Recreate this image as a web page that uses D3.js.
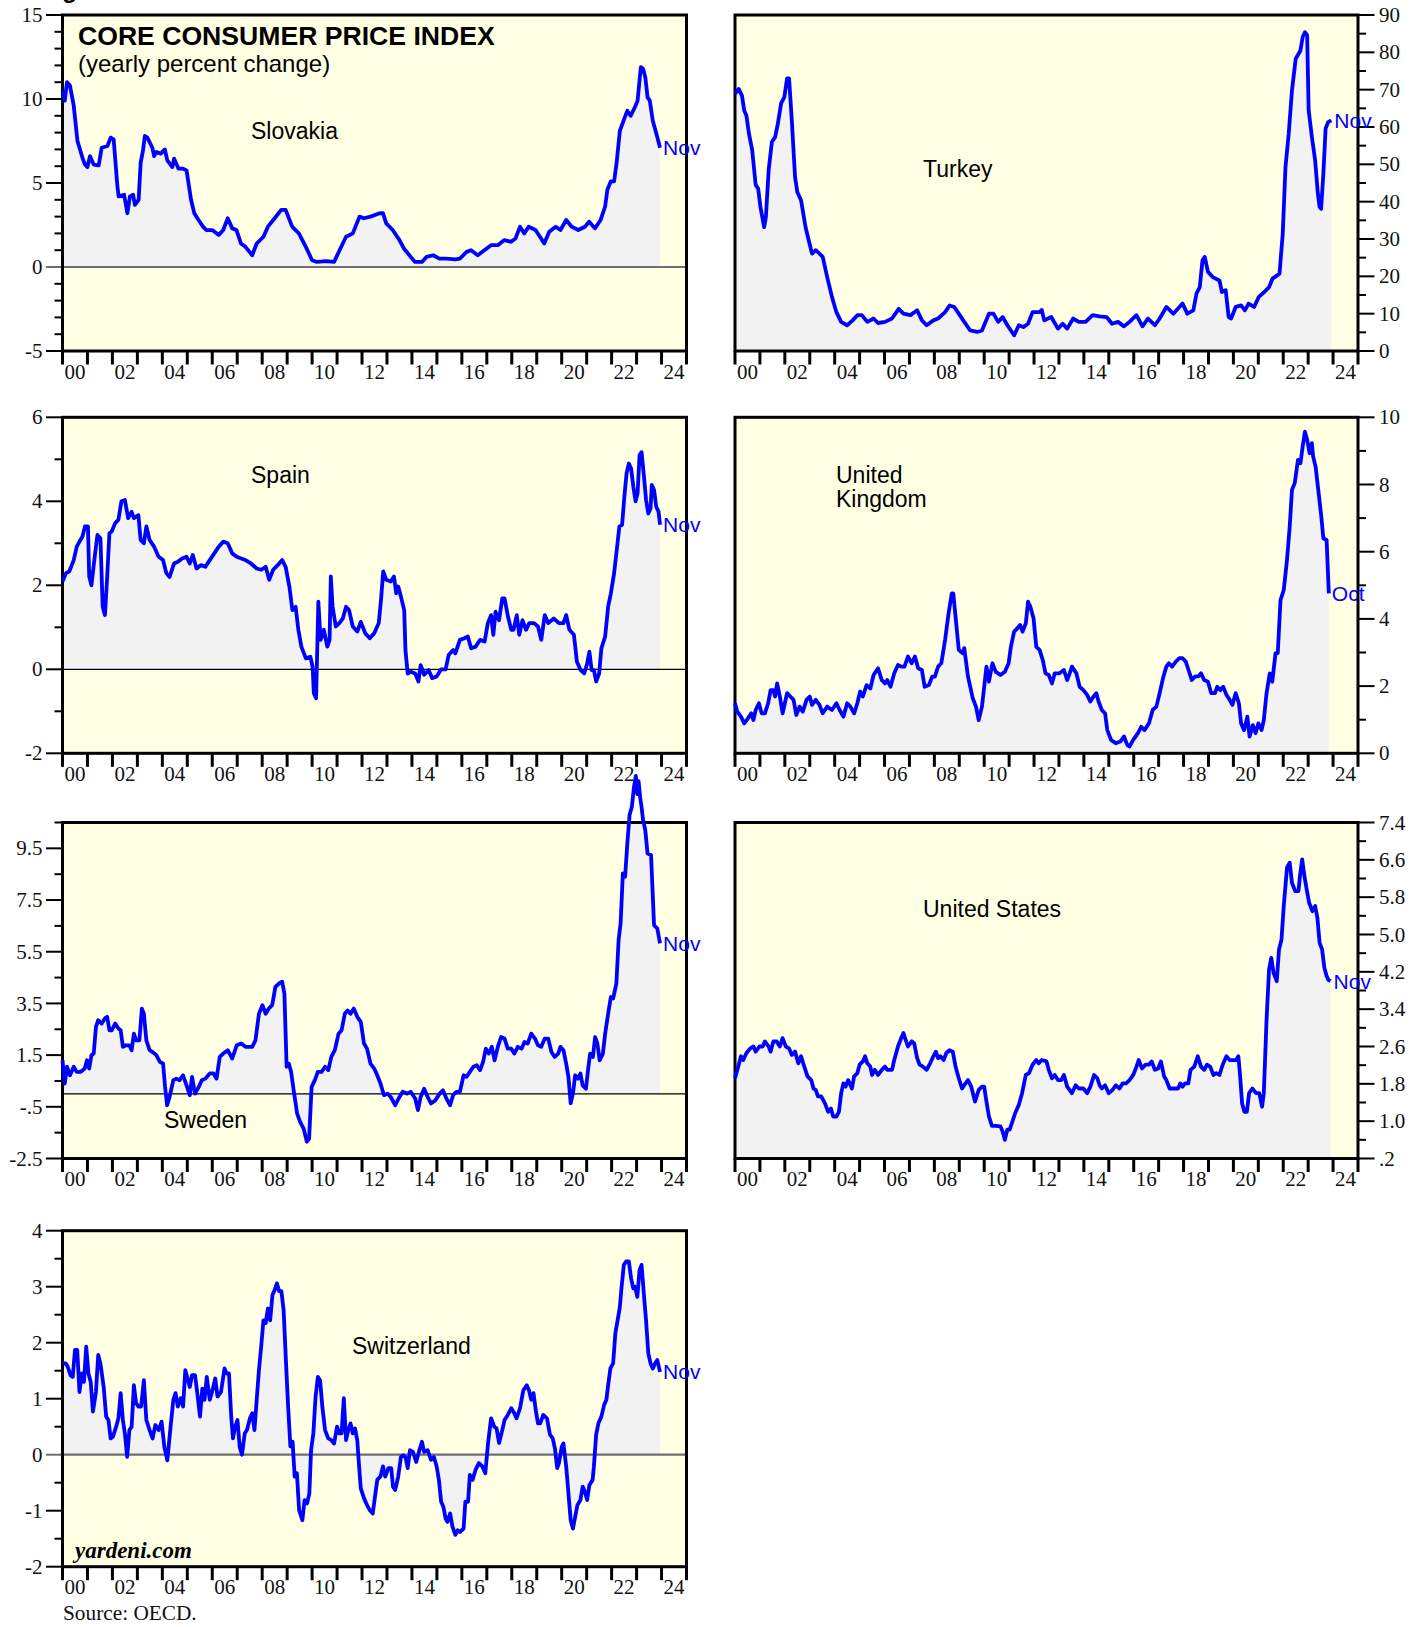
<!DOCTYPE html>
<html><head><meta charset="utf-8">
<script src="https://cdn.jsdelivr.net/npm/d3@7"></script>
<style>body{margin:0;background:#fff} svg{display:block}</style>
</head><body>
<svg id="c" width="1424" height="1627"></svg>
<script>
// ---------- DATA ----------
const yearLabels = ["00","02","04","06","08","10","12","14","16","18","20","22","24"];

const slovakia = [[2000.0,10.5],[2000.09,9.9],[2000.18,11.0],[2000.3,10.8],[2000.45,9.6],[2000.6,7.5],[2000.8,6.5],[2000.9,6.1],[2001.0,5.95],[2001.1,6.6],[2001.25,6.1],[2001.45,6.05],[2001.57,7.1],[2001.8,7.2],[2001.93,7.7],[2002.05,7.6],[2002.2,4.8],[2002.25,4.2],[2002.47,4.3],[2002.6,3.2],[2002.7,4.2],[2002.83,4.3],[2002.9,3.7],[2003.05,4.0],[2003.13,6.2],[2003.22,6.9],[2003.3,7.8],[2003.4,7.7],[2003.6,7.1],[2003.67,6.6],[2003.76,6.85],[2003.94,6.75],[2004.1,7.0],[2004.2,6.35],[2004.4,5.95],[2004.47,6.45],[2004.65,5.85],[2004.83,5.85],[2004.97,5.75],[2005.15,4.0],[2005.28,3.2],[2005.45,2.8],[2005.63,2.4],[2005.76,2.2],[2006.0,2.2],[2006.26,1.9],[2006.44,2.2],[2006.62,2.9],[2006.8,2.3],[2006.97,2.2],[2007.15,1.4],[2007.33,1.2],[2007.6,0.7],[2007.78,1.4],[2008.05,1.8],[2008.23,2.4],[2008.5,2.9],[2008.76,3.4],[2008.94,3.4],[2009.2,2.4],[2009.47,2.0],[2009.75,1.2],[2010.0,0.4],[2010.2,0.3],[2010.55,0.35],[2010.88,0.3],[2011.1,1.0],[2011.36,1.8],[2011.63,2.0],[2011.9,3.0],[2012.07,2.9],[2012.34,3.0],[2012.52,3.1],[2012.7,3.2],[2012.84,3.2],[2012.97,2.6],[2013.23,2.2],[2013.5,1.6],[2013.68,1.1],[2013.95,0.6],[2014.13,0.3],[2014.4,0.3],[2014.58,0.6],[2014.85,0.7],[2015.1,0.5],[2015.38,0.5],[2015.74,0.45],[2015.92,0.5],[2016.19,0.9],[2016.37,1.0],[2016.64,0.7],[2016.9,1.0],[2017.17,1.3],[2017.44,1.3],[2017.7,1.6],[2017.97,1.5],[2018.15,1.7],[2018.33,2.4],[2018.5,2.0],[2018.68,2.4],[2018.95,2.2],[2019.13,1.8],[2019.3,1.4],[2019.5,2.1],[2019.76,2.4],[2019.95,2.2],[2020.18,2.8],[2020.4,2.4],[2020.66,2.2],[2020.93,2.4],[2021.1,2.7],[2021.33,2.3],[2021.56,2.8],[2021.74,3.6],[2021.83,4.6],[2021.97,5.1],[2022.1,5.1],[2022.2,6.2],[2022.33,8.1],[2022.5,8.8],[2022.63,9.3],[2022.76,9.0],[2022.93,9.5],[2023.04,9.9],[2023.17,11.9],[2023.26,11.8],[2023.35,11.3],[2023.44,10.1],[2023.53,9.9],[2023.65,8.7],[2023.8,7.9],[2023.94,7.1]];

const turkey = [[2000.0,68.9],[2000.15,70.2],[2000.28,68.4],[2000.37,64.4],[2000.46,63],[2000.56,58.2],[2000.69,53.8],[2000.83,44.5],[2000.93,43.5],[2001.02,38.6],[2001.17,33.2],[2001.24,35.9],[2001.35,48.4],[2001.48,56],[2001.61,57.3],[2001.72,60.9],[2001.85,66.3],[2001.98,68],[2002.09,73],[2002.17,73],[2002.28,61.8],[2002.41,46.6],[2002.5,42.6],[2002.65,40.4],[2002.83,33.2],[2002.96,29.6],[2003.09,26.1],[2003.24,27],[2003.39,26.1],[2003.52,25.2],[2003.7,19.8],[2003.89,14.5],[2004.07,10.4],[2004.26,7.8],[2004.5,6.9],[2004.72,8.2],[2004.91,9.6],[2005.09,9.6],[2005.31,7.8],[2005.56,8.7],[2005.74,7.5],[2006.02,7.8],[2006.3,8.7],[2006.57,11.3],[2006.76,10],[2007.04,9.6],[2007.31,10.9],[2007.5,8.2],[2007.69,6.9],[2007.96,8.2],[2008.15,8.7],[2008.43,10.4],[2008.61,12.2],[2008.8,11.8],[2008.98,10],[2009.2,7.8],[2009.44,5.5],[2009.72,5.1],[2009.91,5.5],[2010.19,10],[2010.37,10],[2010.56,7.8],[2010.74,9.1],[2010.93,6.9],[2011.2,4.2],[2011.39,6.9],[2011.57,6.4],[2011.76,7.3],[2011.94,10.4],[2012.22,10.4],[2012.31,11],[2012.41,8.2],[2012.69,9.1],[2012.96,6],[2013.15,7.3],[2013.33,6],[2013.57,8.7],[2013.8,7.8],[2014.07,7.8],[2014.35,9.6],[2014.63,9.3],[2014.91,9.1],[2015.13,7.3],[2015.37,7.8],[2015.61,6.6],[2015.83,7.8],[2016.11,9.6],[2016.35,6.6],[2016.57,8.7],[2016.85,6.9],[2017.04,8.7],[2017.31,11.8],[2017.59,10],[2017.96,12.7],[2018.15,10],[2018.39,10.9],[2018.52,15.4],[2018.65,17.1],[2018.76,24.3],[2018.85,25.2],[2018.98,21.2],[2019.17,19.8],[2019.44,18.9],[2019.54,15.8],[2019.69,16.3],[2019.81,9.1],[2019.91,8.7],[2020.09,11.8],[2020.31,12.2],[2020.46,10.9],[2020.61,12.7],[2020.83,11.8],[2021.02,14.5],[2021.24,15.8],[2021.43,17.1],[2021.57,19.4],[2021.85,20.7],[2021.98,31.4],[2022.09,49.3],[2022.22,58.2],[2022.35,69.8],[2022.5,78.3],[2022.69,80.5],[2022.78,84.1],[2022.87,85.4],[2022.96,84.6],[2023.02,64.5],[2023.15,57.3],[2023.28,51.1],[2023.39,42.1],[2023.46,38.6],[2023.52,38.1],[2023.61,47.5],[2023.7,59.6],[2023.8,61.3],[2023.93,61.8]];

const spain = [[2000.0,2.09],[2000.14,2.29],[2000.27,2.33],[2000.45,2.6],[2000.57,2.92],[2000.72,3.08],[2000.8,3.16],[2000.9,3.4],[2001.02,3.4],[2001.07,2.21],[2001.16,2.0],[2001.29,2.68],[2001.4,3.2],[2001.52,3.12],[2001.61,1.49],[2001.7,1.29],[2001.79,2.2],[2001.88,3.24],[2001.97,3.28],[2002.11,3.48],[2002.24,3.56],[2002.36,4.0],[2002.5,4.03],[2002.63,3.6],[2002.77,3.75],[2002.86,3.6],[2003.04,3.67],[2003.13,3.08],[2003.26,3.0],[2003.36,3.4],[2003.49,3.08],[2003.67,2.92],[2003.85,2.68],[2004.03,2.6],[2004.16,2.29],[2004.29,2.2],[2004.47,2.52],[2004.62,2.56],[2004.79,2.64],[2004.97,2.68],[2005.1,2.52],[2005.22,2.72],[2005.37,2.4],[2005.55,2.48],[2005.72,2.44],[2005.9,2.6],[2006.08,2.76],[2006.26,2.92],[2006.44,3.04],[2006.62,3.0],[2006.8,2.76],[2006.98,2.68],[2007.16,2.64],[2007.33,2.6],[2007.55,2.52],[2007.78,2.4],[2007.96,2.37],[2008.14,2.44],[2008.28,2.13],[2008.44,2.37],[2008.62,2.48],[2008.8,2.6],[2008.94,2.44],[2009.09,1.97],[2009.21,1.41],[2009.34,1.49],[2009.45,0.94],[2009.57,0.54],[2009.75,0.26],[2009.93,0.3],[2010.02,0.06],[2010.07,-0.57],[2010.16,-0.69],[2010.25,1.61],[2010.34,0.7],[2010.47,0.94],[2010.61,0.54],[2010.7,0.7],[2010.75,2.21],[2010.82,1.49],[2010.95,1.02],[2011.09,1.1],[2011.23,1.21],[2011.36,1.49],[2011.48,1.41],[2011.63,1.02],[2011.81,0.9],[2011.95,1.13],[2012.13,0.86],[2012.31,0.74],[2012.49,0.86],[2012.67,1.1],[2012.76,1.65],[2012.85,2.33],[2012.97,2.13],[2013.15,2.09],[2013.28,2.21],[2013.37,1.81],[2013.45,1.97],[2013.56,1.73],[2013.69,1.41],[2013.74,0.46],[2013.83,-0.1],[2013.95,-0.06],[2014.13,-0.1],[2014.26,-0.29],[2014.35,0.1],[2014.49,-0.13],[2014.67,-0.02],[2014.81,-0.21],[2014.99,-0.17],[2015.17,0.0],[2015.35,0.0],[2015.47,0.34],[2015.65,0.46],[2015.74,0.38],[2015.92,0.7],[2016.1,0.74],[2016.24,0.78],[2016.37,0.5],[2016.55,0.54],[2016.73,0.7],[2016.91,0.66],[2017.04,1.1],[2017.17,1.29],[2017.26,0.82],[2017.35,1.37],[2017.49,1.17],[2017.62,1.69],[2017.71,1.69],[2017.85,1.25],[2017.98,0.94],[2018.07,0.94],[2018.2,1.29],[2018.3,0.82],[2018.43,1.17],[2018.57,0.94],[2018.7,1.1],[2018.88,1.1],[2019.05,1.02],[2019.18,0.7],[2019.32,1.29],[2019.46,1.1],[2019.68,1.21],[2019.89,1.1],[2020.07,1.1],[2020.18,1.29],[2020.31,0.94],[2020.49,0.82],[2020.61,0.18],[2020.76,-0.02],[2020.9,-0.1],[2021.02,0.14],[2021.11,0.42],[2021.2,-0.02],[2021.29,-0.02],[2021.38,-0.29],[2021.5,-0.1],[2021.59,0.5],[2021.74,0.78],[2021.86,1.49],[2021.97,1.81],[2022.1,2.29],[2022.19,2.76],[2022.31,3.4],[2022.42,3.44],[2022.51,4.11],[2022.6,4.67],[2022.69,4.9],[2022.78,4.78],[2022.87,4.35],[2022.96,4.0],[2023.04,4.19],[2023.12,5.1],[2023.2,5.17],[2023.29,4.63],[2023.38,4.03],[2023.47,3.71],[2023.56,3.83],[2023.61,4.39],[2023.7,4.27],[2023.79,3.87],[2023.88,3.75],[2023.94,3.44]];

const unitedKingdom = [[2000.0,1.49],[2000.09,1.24],[2000.24,1.09],[2000.37,0.89],[2000.52,1.04],[2000.65,1.19],[2000.74,0.99],[2000.83,1.29],[2000.96,1.49],[2001.07,1.19],[2001.2,1.19],[2001.33,1.49],[2001.43,1.88],[2001.54,1.88],[2001.61,1.69],[2001.69,2.08],[2001.8,1.69],[2001.91,1.19],[2002.0,1.49],[2002.09,1.79],[2002.22,1.69],[2002.35,1.59],[2002.46,1.14],[2002.59,1.39],[2002.72,1.24],[2002.87,1.59],[2003.0,1.69],[2003.09,1.44],[2003.24,1.59],[2003.39,1.44],[2003.52,1.19],[2003.7,1.39],[2003.89,1.29],[2004.07,1.49],[2004.2,1.29],[2004.35,1.09],[2004.5,1.49],[2004.63,1.39],[2004.78,1.19],[2004.91,1.49],[2005.02,1.84],[2005.13,1.69],[2005.28,2.03],[2005.43,1.93],[2005.56,2.33],[2005.74,2.53],[2005.89,2.18],[2006.02,2.08],[2006.11,2.18],[2006.24,1.98],[2006.39,2.38],[2006.54,2.63],[2006.67,2.58],[2006.8,2.58],[2006.94,2.88],[2007.09,2.68],[2007.22,2.88],[2007.35,2.53],[2007.5,2.48],[2007.61,1.98],[2007.78,2.03],[2007.91,2.28],[2008.02,2.28],[2008.15,2.58],[2008.28,2.68],[2008.43,3.37],[2008.57,4.17],[2008.7,4.76],[2008.76,4.76],[2008.85,4.07],[2008.98,3.08],[2009.13,2.98],[2009.2,3.13],[2009.35,2.28],[2009.44,1.98],[2009.54,1.64],[2009.67,1.39],[2009.78,0.99],[2009.91,1.39],[2010.0,1.98],[2010.09,2.58],[2010.19,2.13],[2010.33,2.68],[2010.46,2.43],[2010.65,2.33],[2010.83,2.43],[2010.98,2.68],[2011.07,3.17],[2011.2,3.62],[2011.33,3.72],[2011.44,3.82],[2011.54,3.62],[2011.67,3.87],[2011.76,4.51],[2011.85,4.37],[2011.98,4.02],[2012.09,3.17],[2012.22,3.08],[2012.35,2.78],[2012.46,2.38],[2012.59,2.33],[2012.72,2.08],[2012.83,2.38],[2013.02,2.38],[2013.2,2.48],[2013.33,2.18],[2013.43,2.38],[2013.52,2.58],[2013.7,2.38],[2013.83,1.98],[2013.98,1.88],[2014.13,1.74],[2014.26,1.54],[2014.39,1.69],[2014.5,1.79],[2014.59,1.54],[2014.72,1.29],[2014.85,1.19],[2014.94,0.69],[2015.09,0.4],[2015.28,0.3],[2015.46,0.35],[2015.61,0.5],[2015.74,0.25],[2015.83,0.2],[2015.98,0.4],[2016.17,0.6],[2016.3,0.79],[2016.43,0.69],[2016.61,0.89],[2016.76,1.29],[2016.91,1.39],[2017.04,1.79],[2017.19,2.28],[2017.31,2.58],[2017.41,2.68],[2017.54,2.58],[2017.69,2.73],[2017.83,2.83],[2017.96,2.83],[2018.09,2.73],[2018.2,2.48],[2018.33,2.18],[2018.46,2.28],[2018.61,2.3],[2018.7,2.38],[2018.83,2.18],[2018.98,2.13],[2019.11,1.79],[2019.26,1.79],[2019.35,1.98],[2019.48,1.88],[2019.59,1.98],[2019.72,1.74],[2019.85,1.59],[2019.96,1.44],[2020.09,1.79],[2020.22,1.49],[2020.31,0.89],[2020.43,0.69],[2020.56,1.09],[2020.65,0.5],[2020.78,0.84],[2020.89,0.6],[2021.0,0.89],[2021.13,0.69],[2021.22,0.99],[2021.33,1.79],[2021.46,2.38],[2021.56,2.13],[2021.69,2.98],[2021.78,2.98],[2021.89,4.56],[2022.02,4.86],[2022.15,5.75],[2022.26,6.75],[2022.35,7.84],[2022.46,8.04],[2022.59,8.73],[2022.69,8.63],[2022.78,9.13],[2022.87,9.57],[2022.96,9.33],[2023.06,8.93],[2023.15,9.23],[2023.2,8.83],[2023.3,8.53],[2023.39,7.94],[2023.52,7.1],[2023.61,6.4],[2023.74,6.35],[2023.83,4.76]];

const sweden = [[2000.0,1.3],[2000.09,0.4],[2000.18,1.05],[2000.3,0.72],[2000.45,1.05],[2000.57,0.85],[2000.72,0.85],[2000.89,0.98],[2000.98,1.3],[2001.07,0.98],[2001.16,1.5],[2001.25,1.56],[2001.34,2.59],[2001.43,2.85],[2001.57,2.72],[2001.7,2.92],[2001.79,2.98],[2001.88,2.46],[2001.97,2.46],[2002.11,2.72],[2002.24,2.53],[2002.33,2.46],[2002.42,1.82],[2002.54,1.88],[2002.68,1.88],[2002.77,1.69],[2002.86,2.33],[2002.95,2.07],[2003.08,2.07],[2003.18,3.3],[2003.26,3.1],[2003.36,2.07],[2003.49,1.69],[2003.61,1.62],[2003.76,1.5],[2003.9,1.24],[2004.03,1.17],[2004.11,0.27],[2004.19,-0.44],[2004.29,-0.12],[2004.44,0.53],[2004.56,0.59],[2004.69,0.53],[2004.83,0.72],[2004.97,0.33],[2005.1,-0.05],[2005.19,0.66],[2005.31,0.01],[2005.46,0.27],[2005.58,0.53],[2005.72,0.59],[2005.9,0.79],[2006.05,0.79],[2006.17,0.59],[2006.3,1.43],[2006.44,1.56],[2006.62,1.69],[2006.8,1.37],[2006.98,1.88],[2007.16,1.95],[2007.33,1.82],[2007.48,1.82],[2007.6,1.82],[2007.73,2.07],[2007.87,3.1],[2008.01,3.43],[2008.14,3.1],[2008.26,3.3],[2008.4,3.43],[2008.53,4.14],[2008.67,4.27],[2008.8,4.34],[2008.89,3.88],[2008.98,1.05],[2009.07,1.17],[2009.16,0.85],[2009.27,0.08],[2009.4,-0.76],[2009.52,-1.08],[2009.66,-1.34],[2009.79,-1.85],[2009.88,-1.73],[2009.98,0.27],[2010.11,0.53],[2010.23,0.85],[2010.38,0.85],[2010.52,1.05],[2010.65,0.92],[2010.77,1.43],[2010.91,1.69],[2011.06,2.33],[2011.18,2.46],[2011.31,3.1],[2011.42,3.23],[2011.54,3.1],[2011.67,3.3],[2011.81,2.98],[2011.95,2.79],[2012.08,1.95],[2012.2,1.75],[2012.34,1.17],[2012.49,0.98],[2012.61,0.72],[2012.74,0.4],[2012.88,-0.05],[2013.02,0.01],[2013.15,-0.12],[2013.33,-0.44],[2013.5,-0.12],[2013.63,0.08],[2013.81,0.01],[2013.95,0.08],[2014.13,-0.18],[2014.24,-0.63],[2014.35,-0.12],[2014.49,0.2],[2014.63,-0.12],[2014.76,-0.37],[2014.94,-0.25],[2015.11,0.01],[2015.24,0.14],[2015.38,-0.18],[2015.53,-0.44],[2015.65,-0.05],[2015.78,0.08],[2015.92,0.08],[2016.07,0.72],[2016.19,0.66],[2016.32,0.85],[2016.46,1.05],[2016.6,1.11],[2016.73,0.92],[2016.85,1.24],[2016.96,1.75],[2017.08,1.56],[2017.2,1.82],[2017.31,1.3],[2017.44,1.82],[2017.57,2.2],[2017.71,2.14],[2017.84,1.75],[2017.98,1.75],[2018.1,1.56],[2018.24,1.82],[2018.39,1.75],[2018.51,2.01],[2018.64,1.95],[2018.78,2.33],[2018.93,2.14],[2019.05,1.88],[2019.18,1.82],[2019.32,2.14],[2019.46,2.14],[2019.59,1.62],[2019.72,1.43],[2019.86,1.56],[2019.95,1.82],[2020.07,1.69],[2020.18,1.17],[2020.27,0.66],[2020.36,-0.37],[2020.45,0.01],[2020.54,0.72],[2020.66,0.59],[2020.75,0.79],[2020.84,0.33],[2020.97,0.2],[2021.07,1.05],[2021.14,1.56],[2021.25,1.43],[2021.34,2.2],[2021.43,1.95],[2021.52,1.3],[2021.65,1.56],[2021.74,2.33],[2021.86,3.1],[2021.97,3.75],[2022.06,3.69],[2022.19,4.27],[2022.28,5.95],[2022.36,6.6],[2022.45,8.53],[2022.54,8.4],[2022.63,9.7],[2022.72,10.8],[2022.81,11.1],[2022.9,11.9],[2022.97,12.3],[2023.03,11.6],[2023.08,12.1],[2023.14,11.5],[2023.2,11.1],[2023.26,10.6],[2023.35,10.2],[2023.44,9.3],[2023.58,9.24],[2023.7,6.53],[2023.83,6.4],[2023.94,5.82]];

const unitedStates = [[2000.0,1.92],[2000.13,2.17],[2000.24,2.39],[2000.33,2.31],[2000.46,2.46],[2000.61,2.56],[2000.74,2.6],[2000.83,2.49],[2000.98,2.6],[2001.11,2.6],[2001.2,2.71],[2001.35,2.6],[2001.43,2.49],[2001.54,2.71],[2001.67,2.71],[2001.8,2.6],[2001.91,2.78],[2002.04,2.6],[2002.17,2.56],[2002.28,2.42],[2002.41,2.49],[2002.54,2.24],[2002.65,2.39],[2002.78,2.17],[2002.91,1.96],[2003.06,1.88],[2003.15,1.7],[2003.24,1.67],[2003.33,1.53],[2003.46,1.53],[2003.61,1.38],[2003.74,1.2],[2003.85,1.27],[2003.94,1.1],[2004.07,1.1],[2004.17,1.2],[2004.26,1.6],[2004.35,1.81],[2004.44,1.74],[2004.54,1.88],[2004.69,1.7],[2004.78,1.96],[2004.91,2.03],[2005.0,2.21],[2005.13,2.28],[2005.22,2.39],[2005.31,2.24],[2005.43,2.17],[2005.5,1.99],[2005.61,2.1],[2005.74,1.99],[2005.89,2.1],[2006.02,2.17],[2006.11,2.1],[2006.3,2.1],[2006.39,2.31],[2006.54,2.6],[2006.67,2.78],[2006.76,2.89],[2006.85,2.74],[2006.94,2.6],[2007.09,2.71],[2007.19,2.67],[2007.31,2.35],[2007.41,2.21],[2007.54,2.17],[2007.69,2.1],[2007.83,2.24],[2007.96,2.39],[2008.06,2.49],[2008.15,2.35],[2008.24,2.39],[2008.37,2.31],[2008.48,2.46],[2008.61,2.52],[2008.74,2.49],[2008.85,2.17],[2008.98,1.92],[2009.11,1.7],[2009.2,1.77],[2009.35,1.88],[2009.48,1.74],[2009.63,1.42],[2009.78,1.67],[2009.91,1.74],[2010.0,1.74],[2010.09,1.42],[2010.19,1.1],[2010.31,0.9],[2010.46,0.9],[2010.65,0.89],[2010.74,0.78],[2010.83,0.6],[2010.93,0.82],[2011.02,0.82],[2011.11,0.96],[2011.24,1.17],[2011.39,1.35],[2011.52,1.6],[2011.67,1.99],[2011.8,2.03],[2011.94,2.21],[2012.09,2.31],[2012.19,2.24],[2012.31,2.31],[2012.5,2.28],[2012.59,2.1],[2012.72,1.92],[2012.83,1.99],[2012.96,1.88],[2013.09,1.88],[2013.2,1.99],[2013.33,1.74],[2013.52,1.6],[2013.67,1.77],[2013.8,1.7],[2013.98,1.7],[2014.13,1.6],[2014.26,1.74],[2014.41,1.99],[2014.54,1.92],[2014.63,1.77],[2014.72,1.7],[2014.85,1.77],[2015.0,1.6],[2015.15,1.67],[2015.28,1.77],[2015.43,1.7],[2015.56,1.81],[2015.69,1.81],[2015.83,1.88],[2015.98,1.99],[2016.11,2.17],[2016.2,2.31],[2016.33,2.13],[2016.48,2.21],[2016.61,2.21],[2016.72,2.28],[2016.85,2.1],[2016.98,2.13],[2017.09,2.28],[2017.22,1.96],[2017.31,1.88],[2017.44,1.7],[2017.59,1.7],[2017.78,1.7],[2017.87,1.81],[2017.96,1.74],[2018.06,1.81],[2018.19,1.81],[2018.28,2.1],[2018.43,2.17],[2018.57,2.39],[2018.7,2.17],[2018.83,2.1],[2018.94,2.21],[2019.07,2.17],[2019.2,1.99],[2019.31,2.03],[2019.44,1.99],[2019.57,2.21],[2019.72,2.39],[2019.85,2.31],[2019.98,2.31],[2020.11,2.31],[2020.2,2.39],[2020.26,2.03],[2020.35,1.38],[2020.44,1.2],[2020.54,1.2],[2020.63,1.6],[2020.76,1.7],[2020.91,1.6],[2021.04,1.6],[2021.15,1.31],[2021.22,1.6],[2021.33,3.17],[2021.43,4.25],[2021.52,4.5],[2021.61,4.18],[2021.74,4.0],[2021.83,4.68],[2021.93,4.89],[2022.02,5.61],[2022.15,6.43],[2022.26,6.54],[2022.35,6.11],[2022.48,5.93],[2022.61,5.93],[2022.67,6.25],[2022.76,6.61],[2022.85,6.25],[2022.94,5.97],[2023.04,5.68],[2023.17,5.5],[2023.28,5.61],[2023.37,5.36],[2023.46,4.82],[2023.56,4.68],[2023.65,4.29],[2023.74,4.11],[2023.81,4.03],[2023.9,4.0]];

const switzerland = [[2000.0,1.63],[2000.13,1.63],[2000.21,1.57],[2000.32,1.42],[2000.41,1.39],[2000.5,1.87],[2000.59,1.87],[2000.68,1.12],[2000.77,1.45],[2000.86,1.3],[2000.95,1.93],[2001.04,1.45],[2001.13,1.3],[2001.22,0.77],[2001.34,1.12],[2001.43,1.78],[2001.52,1.63],[2001.65,1.21],[2001.75,0.68],[2001.84,0.62],[2001.93,0.29],[2002.02,0.32],[2002.15,0.5],[2002.24,0.65],[2002.33,1.1],[2002.42,0.62],[2002.5,0.38],[2002.59,-0.04],[2002.68,0.44],[2002.77,0.5],[2002.86,1.24],[2002.95,0.92],[2003.04,0.86],[2003.15,0.86],[2003.26,1.33],[2003.36,0.62],[2003.49,0.44],[2003.61,0.29],[2003.72,0.53],[2003.85,0.44],[2003.97,0.59],[2004.08,0.14],[2004.2,-0.1],[2004.33,0.5],[2004.44,0.98],[2004.53,1.1],[2004.62,0.86],[2004.74,1.01],[2004.83,0.86],[2004.92,1.51],[2005.01,1.36],[2005.1,1.21],[2005.19,1.42],[2005.31,1.42],[2005.4,1.1],[2005.51,0.68],[2005.6,1.18],[2005.69,0.98],[2005.78,1.39],[2005.9,0.98],[2005.99,1.12],[2006.12,1.36],[2006.21,1.04],[2006.35,1.12],[2006.49,1.54],[2006.58,1.45],[2006.67,1.45],[2006.76,0.68],[2006.83,0.29],[2006.92,0.5],[2007.01,0.62],[2007.1,0.14],[2007.19,0.0],[2007.3,0.38],[2007.39,0.44],[2007.51,0.65],[2007.6,0.74],[2007.69,0.44],[2007.78,0.98],[2007.87,1.51],[2007.96,1.93],[2008.05,2.4],[2008.14,2.35],[2008.23,2.61],[2008.32,2.4],[2008.41,2.85],[2008.5,2.94],[2008.59,3.06],[2008.68,2.92],[2008.77,2.92],[2008.86,2.58],[2008.95,1.69],[2009.04,0.86],[2009.13,0.15],[2009.22,0.23],[2009.3,-0.39],[2009.39,-0.33],[2009.48,-0.99],[2009.61,-1.17],[2009.7,-0.81],[2009.8,-0.87],[2009.89,-0.69],[2009.96,0.09],[2010.05,0.38],[2010.14,1.04],[2010.23,1.39],[2010.32,1.33],[2010.41,0.86],[2010.52,0.44],[2010.65,0.29],[2010.77,0.26],[2010.88,0.2],[2011.0,0.5],[2011.09,0.38],[2011.18,0.38],[2011.27,1.01],[2011.36,0.26],[2011.45,0.44],[2011.54,0.56],[2011.63,0.38],[2011.72,0.47],[2011.81,0.26],[2011.86,-0.07],[2011.95,-0.6],[2012.08,-0.78],[2012.2,-0.9],[2012.31,-0.99],[2012.43,-1.05],[2012.52,-0.75],[2012.61,-0.45],[2012.74,-0.39],[2012.84,-0.21],[2012.93,-0.39],[2013.06,-0.24],[2013.17,-0.24],[2013.24,-0.57],[2013.33,-0.63],[2013.45,-0.39],[2013.56,-0.04],[2013.65,-0.01],[2013.74,-0.04],[2013.83,-0.24],[2013.92,0.08],[2014.04,0.05],[2014.17,-0.13],[2014.28,0.05],[2014.4,0.23],[2014.49,0.05],[2014.63,0.08],[2014.76,-0.09],[2014.88,-0.04],[2014.99,-0.21],[2015.08,-0.45],[2015.17,-0.84],[2015.26,-0.93],[2015.35,-1.14],[2015.42,-1.2],[2015.53,-1.05],[2015.62,-1.28],[2015.74,-1.43],[2015.83,-1.35],[2015.92,-1.38],[2016.07,-1.32],[2016.14,-0.84],[2016.25,-0.84],[2016.32,-0.36],[2016.43,-0.45],[2016.55,-0.27],[2016.68,-0.15],[2016.82,-0.21],[2016.94,-0.33],[2017.05,0.21],[2017.17,0.65],[2017.3,0.5],[2017.39,0.47],[2017.49,0.21],[2017.62,0.44],[2017.71,0.62],[2017.84,0.71],[2017.98,0.83],[2018.1,0.74],[2018.19,0.65],[2018.33,0.83],[2018.46,1.15],[2018.6,1.24],[2018.69,1.15],[2018.78,0.98],[2018.87,1.1],[2018.96,0.8],[2019.05,0.56],[2019.14,0.56],[2019.26,0.71],[2019.41,0.65],[2019.53,0.36],[2019.64,0.29],[2019.73,0.11],[2019.82,-0.24],[2019.89,-0.15],[2020.0,0.14],[2020.07,0.2],[2020.18,-0.21],[2020.27,-0.69],[2020.36,-1.17],[2020.45,-1.32],[2020.54,-1.11],[2020.63,-0.9],[2020.75,-0.81],[2020.84,-0.57],[2020.93,-0.66],[2021.02,-0.81],[2021.11,-0.54],[2021.24,-0.45],[2021.29,-0.21],[2021.38,0.36],[2021.47,0.56],[2021.59,0.68],[2021.7,0.89],[2021.79,0.98],[2021.86,1.24],[2021.95,1.54],[2022.06,1.63],[2022.15,2.17],[2022.24,2.4],[2022.33,2.64],[2022.4,3.0],[2022.49,3.39],[2022.58,3.45],[2022.69,3.45],[2022.78,3.15],[2022.87,2.97],[2022.94,3.0],[2023.03,2.82],[2023.12,3.3],[2023.2,3.39],[2023.29,2.88],[2023.38,2.4],[2023.47,1.81],[2023.56,1.63],[2023.65,1.54],[2023.74,1.63],[2023.83,1.69],[2023.94,1.48]];

const slovakiaTicks = ["15","10","5","0","-5"];
const turkeyTicks = ["90","80","70","60","50","40","30","20","10","0"];
const spainTicks = ["6","4","2","0","-2"];
const ukTicks = ["10","8","6","4","2","0"];
const swedenTicks = ["9.5","7.5","5.5","3.5","1.5","-.5","-2.5"];
const usTicks = ["7.4","6.6","5.8","5.0","4.2","3.4","2.6","1.8","1.0",".2"];
const switzerlandTicks = ["4","3","2","1","0","-1","-2"];

// ---------- LAYOUT ----------
const cols = [[62.5, 686.5], [735, 1358]];
const rows = [15, 417.3, 822.5, 1230.7];
const plotH = 336;

const panels = [
  {name:["Slovakia"], data:slovakia, c:0, r:0, dom:[-5,15], minor:1, labels:slovakiaTicks, zero:"gray", end:"Nov", nx:251, ny:138.5},
  {name:["Turkey"], data:turkey, c:1, r:0, dom:[0,90], minor:5, labels:turkeyTicks, zero:null, end:"Nov", nx:923, ny:177},
  {name:["Spain"], data:spain, c:0, r:1, dom:[-2,6], minor:1, labels:spainTicks, zero:"black", end:"Nov", nx:251, ny:483},
  {name:["United","Kingdom"], data:unitedKingdom, c:1, r:1, dom:[0,10], minor:1, labels:ukTicks, zero:null, end:"Oct", nx:836, ny:483},
  {name:["Sweden"], data:sweden, c:0, r:2, dom:[-2.5,10.5], minor:1, labels:swedenTicks, zero:"black", end:"Nov", nx:164, ny:1128},
  {name:["United States"], data:unitedStates, c:1, r:2, dom:[0.2,7.4], minor:0.4, labels:usTicks, zero:null, end:"Nov", nx:923, ny:917},
  {name:["Switzerland"], data:switzerland, c:0, r:3, dom:[-2,4], minor:0.5, labels:switzerlandTicks, zero:"gray", end:"Nov", nx:352, ny:1354}
];

const svg = d3.select("#c");
const SANS = "'Liberation Sans', Arial, sans-serif";
const SERIF = "'Liberation Serif', 'Times New Roman', serif";
const defs = svg.append("defs");

panels.forEach((p, i) => {
  const [x0, x1] = cols[p.c];
  const y0 = rows[p.r], y1 = y0 + plotH;
  const x = d3.scaleLinear().domain([2000, 2025]).range([x0, x1]);
  const y = d3.scaleLinear().domain(p.dom).range([y1, y0]);
  const g = svg.append("g");

  defs.append("clipPath").attr("id", "clip" + i)
    .append("rect").attr("x", x0).attr("y", y0).attr("width", x1 - x0).attr("height", y1 - y0);

  g.append("rect").attr("x", x0).attr("y", y0).attr("width", x1 - x0).attr("height", y1 - y0)
    .attr("fill", "#ffffe3");

  const base = Math.max(0, p.dom[0]);
  const area = d3.area().x(d => x(d[0])).y0(y(base)).y1(d => y(d[1]));
  g.append("path").datum(p.data).attr("d", area).attr("fill", "#f2f2f2")
    .attr("clip-path", `url(#clip${i})`);

  if (p.zero) {
    const zc = p.zero === "gray" ? "#6f6f6f" : "#000";
    const zw = p.zero === "gray" ? 2.2 : 1.3;
    g.append("line").attr("x1", x0).attr("x2", x1).attr("y1", y(0)).attr("y2", y(0))
      .attr("stroke", zc).attr("stroke-width", zw);
  }

  const left = p.c === 0;
  const nTicks = Math.round((p.dom[1] - p.dom[0]) / p.minor);
  const labelVals = p.labels.map(s => +s);
  for (let k = 0; k <= nTicks; k++) {
    const v = p.dom[0] + k * p.minor;
    const major = labelVals.some(lv => Math.abs(lv - v) < 1e-6);
    const len = major ? 16.5 : 8;
    const isZero = Math.abs(v) < 1e-6 && p.zero === "gray";
    g.append("line")
      .attr("x1", left ? x0 - len : x1).attr("x2", left ? x0 : x1 + len)
      .attr("y1", y(v)).attr("y2", y(v))
      .attr("stroke", isZero ? "#6f6f6f" : "#000").attr("stroke-width", 2);
  }
  p.labels.forEach(lab => {
    g.append("text").attr("x", left ? x0 - 20 : x1 + 21).attr("y", y(+lab))
      .attr("dy", "0.34em")
      .attr("text-anchor", left ? "end" : "start")
      .attr("font-family", SERIF).attr("font-size", 21).attr("fill", "#111")
      .text(lab);
  });

  d3.range(2000, 2026).forEach(yr => {
    g.append("line").attr("x1", x(yr)).attr("x2", x(yr)).attr("y1", y1).attr("y2", y1 + 13.5)
      .attr("stroke", "#000").attr("stroke-width", 3);
  });
  yearLabels.forEach(lab => {
    const yr = 2000 + (+lab);
    g.append("text").attr("x", x(yr + 0.5)).attr("y", y1 + 27.5)
      .attr("text-anchor", "middle").attr("font-family", SERIF).attr("font-size", 21).attr("fill", "#111")
      .text(lab);
  });

  g.append("rect").attr("x", x0).attr("y", y0).attr("width", x1 - x0).attr("height", y1 - y0)
    .attr("fill", "none").attr("stroke", "#000").attr("stroke-width", 3);

  const t = g.append("text").attr("font-family", SANS).attr("font-size", 23).attr("fill", "#000");
  p.name.forEach((s, j) => {
    t.append("tspan").attr("x", p.nx).attr("y", p.ny + j * 24).text(s);
  });

  const line = d3.line().x(d => x(d[0])).y(d => y(d[1]));
  g.append("path").datum(p.data).attr("d", line).attr("fill", "none")
    .attr("stroke", "#0000ff").attr("stroke-width", 3.8).attr("stroke-linejoin", "round");

  const last = p.data[p.data.length - 1];
  g.append("text").attr("x", x(last[0]) + 3).attr("y", y(last[1]) + 7.5)
    .attr("font-family", SANS).attr("font-size", 21).attr("fill", "#0000ff").text(p.end);
});

// titles and notes
svg.append("text").attr("x", 41).attr("y", -2).attr("font-family", SANS).attr("font-weight", "bold")
  .attr("font-size", 24).attr("fill", "#000").text("Figure");
svg.append("text").attr("x", 78).attr("y", 45).attr("font-family", SANS).attr("font-weight", "bold")
  .attr("font-size", 26.6).attr("fill", "#000").text("CORE CONSUMER PRICE INDEX");
svg.append("text").attr("x", 78).attr("y", 72).attr("font-family", SANS)
  .attr("font-size", 24).attr("fill", "#000").text("(yearly percent change)");
svg.append("text").attr("x", 75).attr("y", 1558).attr("font-family", SERIF).attr("font-weight", "bold")
  .attr("font-style", "italic").attr("font-size", 23).attr("fill", "#000").text("yardeni.com");
svg.append("text").attr("x", 63).attr("y", 1620).attr("font-family", SERIF)
  .attr("font-size", 21.3).attr("fill", "#111").text("Source: OECD.");
</script>
</body></html>
